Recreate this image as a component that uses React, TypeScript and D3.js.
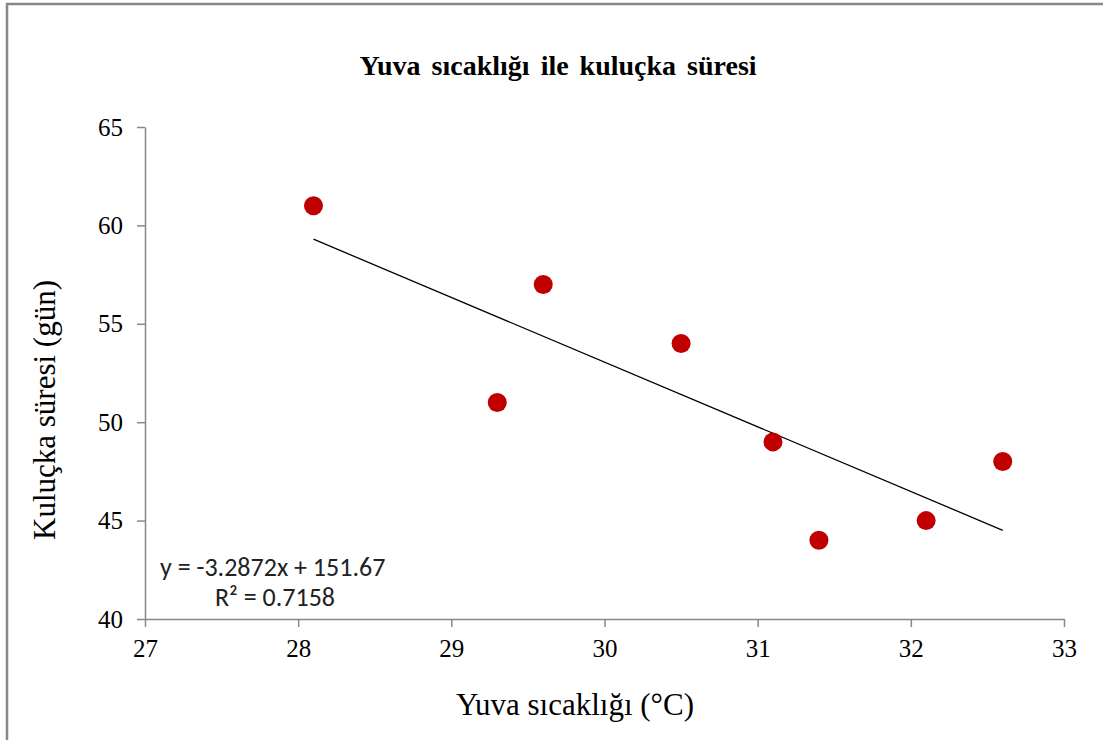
import React, { useEffect, useRef } from 'react';
import * as d3 from 'd3';

// nest temperature (°C) vs incubation time (days)
const temps = [28.1, 29.3, 29.6, 30.5, 31.1, 31.4, 32.1, 32.6];
const days = [61, 51, 57, 54, 49, 44, 45, 48];
const xTicks = [27, 28, 29, 30, 31, 32, 33];
const yTicks = [40, 45, 50, 55, 60, 65];
const slope = -3.2872;
const intercept = 151.67;
const eqLabel = 'y = -3.2872x + 151.67';
const r2Label = 'R² = 0.7158';

const width = 1103;
const height = 740;

export default function App() {
  const ref = useRef<SVGSVGElement>(null);

  useEffect(() => {
    const svg = d3.select(ref.current);
    svg.selectAll('*').remove();

    const x = d3.scaleLinear().domain([27, 33]).range([145, 1064]);
    const y = d3.scaleLinear().domain([40, 65]).range([619, 127]);

    // outer frame
    svg.append('rect')
      .attr('x', 7).attr('y', 4)
      .attr('width', 1200).attr('height', 800)
      .attr('fill', 'none')
      .attr('stroke', '#888')
      .attr('stroke-width', 2.5);

    const serif = '"Liberation Serif", "Times New Roman", serif';

    // title
    svg.append('text')
      .attr('x', 558).attr('y', 75)
      .attr('text-anchor', 'middle')
      .attr('font-family', serif)
      .attr('font-weight', 'bold')
      .attr('font-size', 28)
      .style('word-spacing', '4px')
      .text('Yuva sıcaklığı ile kuluçka süresi');

    // axes
    const fmt = d3.format('d');
    const xAxis = svg.append('g')
      .attr('transform', `translate(0,${y(40)})`)
      .call(d3.axisBottom(x).tickValues(xTicks).tickFormat(d => fmt(d as number))
        .tickSize(8).tickSizeOuter(0).tickPadding(12));
    const yAxis = svg.append('g')
      .attr('transform', `translate(${x(27)},0)`)
      .call(d3.axisLeft(y).tickValues(yTicks).tickFormat(d => fmt(d as number))
        .tickSize(8).tickSizeOuter(0).tickPadding(14));

    [xAxis, yAxis].forEach(g => {
      g.attr('font-family', serif).attr('font-size', 25);
      g.select('.domain').attr('stroke', '#888').attr('stroke-width', 1.5);
      g.selectAll('.tick line').attr('stroke', '#888').attr('stroke-width', 1.5);
      g.selectAll('.tick text').attr('fill', '#000').attr('font-family', serif);
    });

    // axis titles
    svg.append('text')
      .attr('x', 575).attr('y', 715)
      .attr('text-anchor', 'middle')
      .attr('font-family', serif)
      .attr('font-size', 31)
      .text('Yuva sıcaklığı (°C)');

    svg.append('text')
      .attr('transform', `translate(55,${410}) rotate(-90)`)
      .attr('text-anchor', 'middle')
      .attr('font-family', serif)
      .attr('font-size', 31)
      .text('Kuluçka süresi (gün)');

    // trendline
    const xMin = d3.min(temps) as number;
    const xMax = d3.max(temps) as number;
    svg.append('line')
      .attr('x1', x(xMin)).attr('y1', y(slope * xMin + intercept))
      .attr('x2', x(xMax)).attr('y2', y(slope * xMax + intercept))
      .attr('stroke', '#000')
      .attr('stroke-width', 1.3);

    // points
    svg.append('g').selectAll('circle')
      .data(temps)
      .enter().append('circle')
      .attr('cx', d => x(d))
      .attr('cy', (d, i) => y(days[i]))
      .attr('r', 9.5)
      .attr('fill', '#C00000');

    // equation
    const sans = 'Carlito, Calibri, Lato, "Open Sans", sans-serif';
    svg.append('text')
      .attr('x', 160).attr('y', 576)
      .attr('font-family', sans)
      .attr('font-size', 26)
      .attr('fill', '#222')
      .text(eqLabel);
    svg.append('text')
      .attr('x', 215).attr('y', 606)
      .attr('font-family', sans)
      .attr('font-size', 26)
      .attr('fill', '#222')
      .text(r2Label);
  }, []);

  return (
    <svg ref={ref} width={width} height={height}
      style={{ position: 'absolute', left: 0, top: 0, background: '#fff' }} />
  );
}
